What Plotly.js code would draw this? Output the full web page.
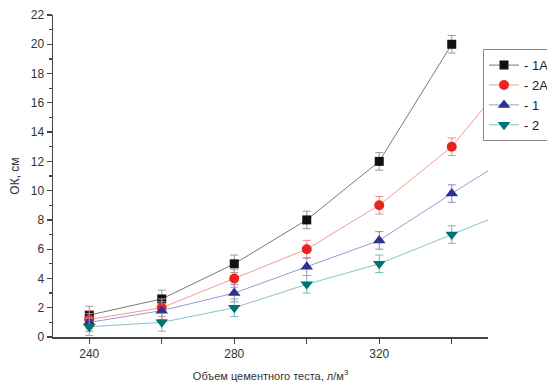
<!DOCTYPE html>
<html>
<head>
<meta charset="utf-8">
<script src="https://cdn.plot.ly/plotly-3.0.1.min.js"></script>
<style>html,body{margin:0;padding:0;background:#fff;}#chart{width:547px;height:387px;}</style>
</head>
<body>
<div id="chart"></div>
<script>
const volumes = [240, 260, 280, 300, 320, 340, 360];
const series1A = [1.5, 2.6, 5.0, 8.0, 12.0, 20.0];
const series2A = [1.2, 2.0, 4.0, 6.0, 9.0, 13.0, 19.0];
const series1 = [1.0, 1.8, 3.0, 4.8, 6.6, 9.8, 12.9];
const series2 = [0.7, 1.0, 2.0, 3.6, 5.0, 7.0, 9.0];
const errors = [0.6, 0.6, 0.6, 0.6, 0.6, 0.6, 0.6];
const names = ['- 1A', '- 2A', '- 1', '- 2'];

function mk(y, name, symbol, mcolor, lcolor, ecolor, size) {
  return {
    x: volumes.slice(0, y.length), y: y, name: name, type: 'scatter', mode: 'lines+markers',
    line: {color: lcolor, width: 1},
    marker: {symbol: symbol, color: mcolor, size: size},
    error_y: {type: 'data', array: errors.slice(0, y.length), color: ecolor, thickness: 1, width: 4, visible: true}
  };
}
const data = [
  mk(series1A, names[0], 'square', '#111111', '#7a7a7a', '#999999', 9),
  mk(series2A, names[1], 'circle', '#e8231d', '#f59a90', '#f08a84', 10),
  mk(series1, names[2], 'triangle-up', '#2e3192', '#9a9ad0', '#8d8dc4', 11),
  mk(series2, names[3], 'triangle-down', '#007373', '#8ac4c4', '#7ab8b8', 11)
];
const axisFont = {family: 'Liberation Sans, Arial, sans-serif', size: 12, color: '#333'};
const titleFont = {family: 'Liberation Sans, Arial, sans-serif', size: 11, color: '#333'};
const layout = {
  width: 547, height: 387,
  margin: {l: 53, r: 59, t: 15, b: 50, autoexpand: false},
  paper_bgcolor: '#fff', plot_bgcolor: '#fff',
  font: axisFont,
  showlegend: true,
  xaxis: {
    range: [230, 350], tickvals: [240, 280, 320], ticks: 'outside', ticklen: 5, tickwidth: 1.2,
    tickcolor: '#444', showline: true, linecolor: '#444', linewidth: 1.5, showgrid: false, zeroline: false,
    minor: {tickvals: [260, 300, 340], ticks: 'outside', ticklen: 5, tickcolor: '#444', showgrid: false},
    tickfont: axisFont,
    title: {text: 'Объем цементного теста, л/м<sup>3</sup>', font: titleFont, standoff: 12}
  },
  yaxis: {
    range: [0, 22], dtick: 2, ticks: 'outside', ticklen: 5, tickwidth: 1.2,
    tickcolor: '#444', showline: true, linecolor: '#444', linewidth: 1.5, showgrid: false, zeroline: false,
    minor: {dtick: 1, ticks: 'outside', ticklen: 3, tickcolor: '#444', showgrid: false},
    tickfont: axisFont,
    title: {text: 'ОК, см', font: axisFont, standoff: 8}
  },
  legend: {
    x: 0.9885, y: 0.894, xanchor: 'left', yanchor: 'top',
    bordercolor: '#888', borderwidth: 1, bgcolor: '#fff',
    font: {family: 'Liberation Sans, Arial, sans-serif', size: 13, color: '#222'},
    tracegroupgap: 0, itemwidth: 30
  }
};
Plotly.newPlot('chart', data, layout, {displayModeBar: false, staticPlot: true});
</script>
</body>
</html>
